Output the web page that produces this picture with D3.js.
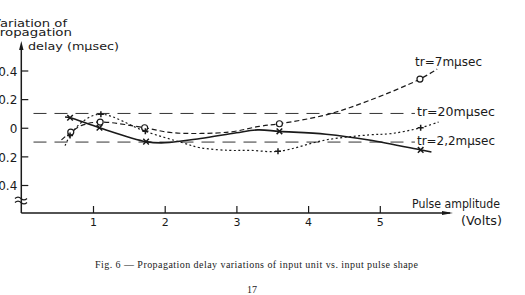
<!DOCTYPE html>
<html>
<head>
<meta charset="utf-8">
<script src="https://cdn.jsdelivr.net/npm/d3@7"></script>
<style>
  body { margin: 0; background: #fff; }
  svg { display: block; }
  .lbl { font-family: "DejaVu Sans", sans-serif; fill: #1a1a1a; }
  .tick text { font-family: "DejaVu Sans", sans-serif; fill: #1a1a1a; font-size: 11px; }
  .tick line { stroke: #1a1a1a; stroke-width: 1.2; }
</style>
</head>
<body>
<div id="chart"></div>
<script>
// data (x = pulse amplitude in volts, y = delay variation in mµsec)
var xTicks = [1, 2, 3, 4, 5];
var yTicks = [0.4, 0.2, 0, -0.2, -0.4];
var refLevels = [0.1, -0.1];
var refSpan = [0.17, 5.49];

// tr = 2,2 mµsec (solid, x markers)
var line22 = [[0.61,0.075],[0.68,0.07],[1.09,0.0],[1.74,-0.097],[2.0,-0.105],[2.5,-0.075],[3.0,-0.035],[3.3,-0.015],[3.6,-0.025],[4.25,-0.045],[4.85,-0.085],[5.57,-0.155],[5.72,-0.17]];
var marks22 = [[0.68,0.07],[1.09,0.0],[1.74,-0.097],[3.6,-0.025],[5.57,-0.155]];

// tr = 7 mµsec (dashed, o markers)
var line7 = [[0.56,-0.085],[0.69,-0.03],[0.86,0.02],[1.1,0.04],[1.72,0.0],[2.11,-0.035],[2.9,-0.03],[3.32,0.01],[3.6,0.028],[4.25,0.09],[4.85,0.19],[5.56,0.34],[5.8,0.41]];
var marks7 = [[0.69,-0.03],[1.1,0.04],[1.72,0.0],[3.6,0.028],[5.56,0.34]];

// tr = 20 mµsec (dotted, + markers)
var line20 = [[0.61,-0.125],[0.68,-0.055],[0.86,0.045],[1.11,0.095],[1.73,-0.025],[2.25,-0.105],[2.5,-0.14],[2.9,-0.158],[3.2,-0.158],[3.58,-0.165],[4.25,-0.085],[4.85,-0.05],[5.17,-0.04],[5.57,0.0],[5.82,0.04]];
var marks20 = [[0.68,-0.055],[1.11,0.095],[1.73,-0.025],[3.58,-0.165],[5.57,0.0]];

var W = 525, H = 295;
var svg = d3.select("#chart").append("svg").attr("width", W).attr("height", H);
svg.append("rect").attr("width", W).attr("height", H).attr("fill", "#fff");

var x = d3.scaleLinear().domain([0, 5]).range([21.3, 379.8]);
var y = d3.scaleLinear().domain([-0.4, 0.4]).range([185, 70.5]);
var ink = "#1a1a1a";

// axes lines + arrows
var xAxisY = 213, yAxisX = x(0);
svg.append("line").attr("x1", yAxisX).attr("x2", yAxisX).attr("y1", 46).attr("y2", xAxisY).attr("stroke", ink).attr("stroke-width", 1.5);
svg.append("line").attr("x1", yAxisX).attr("x2", 450).attr("y1", xAxisY).attr("y2", xAxisY).attr("stroke", ink).attr("stroke-width", 1.3);
svg.append("path").attr("d", "M" + yAxisX + ",41 L" + (yAxisX - 2.2) + ",50 L" + (yAxisX + 2.2) + ",50 Z").attr("fill", ink);
svg.append("path").attr("d", "M453," + xAxisY + " L442," + (xAxisY - 2) + " L442," + (xAxisY + 2) + " Z").attr("fill", ink);

// axis break symbol
svg.append("path").attr("d", "M15,198.5 q3,-3 6,0 t6,0 M15,202.5 q3,-3 6,0 t6,0").attr("fill", "none").attr("stroke", ink).attr("stroke-width", 1.2);

// y ticks (drawn to the right, labels left)
var gy = svg.append("g").attr("transform", "translate(" + yAxisX + ",0)")
  .call(d3.axisLeft(y).tickValues(yTicks).tickSize(-7).tickPadding(4)
    .tickFormat(function(d) { return d === 0 ? "0" : d3.format(".1f")(d); }));
gy.select(".domain").remove();
gy.selectAll(".tick text").attr("dy", "0.4em").style("font-size", "12px");

// x ticks (upward)
var gx = svg.append("g").attr("transform", "translate(0," + xAxisY + ")")
  .call(d3.axisBottom(x).tickValues(xTicks).tickSize(-7).tickPadding(5).tickFormat(d3.format("d")));
gx.select(".domain").remove();

// reference dashed lines
svg.selectAll("line.ref").data(refLevels).enter().append("line").attr("class", "ref")
  .attr("x1", x(refSpan[0])).attr("x2", x(refSpan[1]))
  .attr("y1", function(d) { return y(d); }).attr("y2", function(d) { return y(d); })
  .attr("stroke", "#333").attr("stroke-width", 1).attr("stroke-dasharray", "13,8");

// curves
var lineGen = d3.line().x(function(d) { return x(d[0]); }).y(function(d) { return y(d[1]); }).curve(d3.curveCatmullRom.alpha(0.5));
svg.append("path").attr("d", lineGen(line22)).attr("fill", "none").attr("stroke", ink).attr("stroke-width", 1.6);
svg.append("path").attr("d", lineGen(line7)).attr("fill", "none").attr("stroke", ink).attr("stroke-width", 1.2).attr("stroke-dasharray", "5,3");
svg.append("path").attr("d", lineGen(line20)).attr("fill", "none").attr("stroke", ink).attr("stroke-width", 1.2).attr("stroke-dasharray", "2,2.5");

// markers
svg.selectAll("path.mx").data(marks22).enter().append("path").attr("class", "mx")
  .attr("d", function(d) { var a = x(d[0]), b = y(d[1]), r = 2.8; return "M" + (a-r) + "," + (b-r) + "L" + (a+r) + "," + (b+r) + "M" + (a-r) + "," + (b+r) + "L" + (a+r) + "," + (b-r); })
  .attr("stroke", ink).attr("stroke-width", 1.5);
svg.selectAll("circle.mo").data(marks7).enter().append("circle").attr("class", "mo")
  .attr("cx", function(d) { return x(d[0]); }).attr("cy", function(d) { return y(d[1]); }).attr("r", 3)
  .attr("fill", "#fff").attr("stroke", ink).attr("stroke-width", 1.2);
svg.selectAll("path.mp").data(marks20).enter().append("path").attr("class", "mp")
  .attr("d", function(d) { var a = x(d[0]), b = y(d[1]), r = 3; return "M" + (a-r) + "," + b + "L" + (a+r) + "," + b + "M" + a + "," + (b-r) + "L" + a + "," + (b+r); })
  .attr("stroke", ink).attr("stroke-width", 1.5);

// text labels
function label(t, xx, yy, size, len, anchor) {
  var s = svg.append("text").attr("class", "lbl").attr("x", xx).attr("y", yy).style("font-size", size + "px").text(t);
  if (anchor) s.attr("text-anchor", anchor);
  if (len) s.attr("textLength", len).attr("lengthAdjust", "spacingAndGlyphs");
  return s;
}
label("Variation of", -8, 26.5, 10.5, 75);
label("Propagation", -8, 35.5, 10.5, 80);
label("delay (mμsec)", 28, 50, 11, 91);
label("Pulse amplitude", 412, 208, 12, 88);
label("(Volts)", 461, 225, 12, 41);
label("tr=7mμsec", 415, 66, 12.5, 67);
label("tr=20mμsec", 417, 116, 12.5, 78);
label("tr=2,2mμsec", 417, 145, 12.5, 78);

svg.append("text").attr("x", 95).attr("y", 268).attr("textLength", 323).attr("lengthAdjust", "spacing")
  .style("font-family", "'Liberation Serif', serif").style("font-size", "10px").attr("fill", "#222")
  .text("Fig. 6 — Propagation delay variations of input unit vs. input pulse shape");
svg.append("text").attr("x", 252).attr("y", 293).attr("text-anchor", "middle")
  .style("font-family", "'Liberation Serif', serif").style("font-size", "10px").attr("fill", "#222").text("17");
</script>
</body>
</html>
